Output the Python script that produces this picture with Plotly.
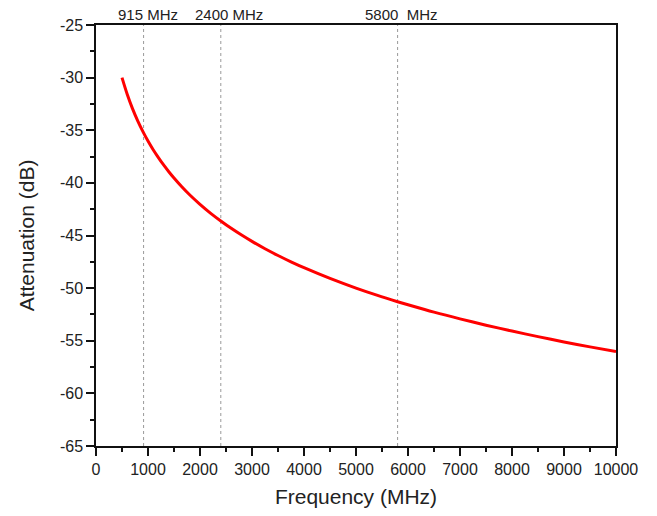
import plotly.graph_objects as go

freq_mhz = [500, 600, 700, 800, 915, 1000, 1100, 1200, 1300, 1400, 1500, 1650, 1800, 2000,
            2200, 2400, 2600, 2800, 3000, 3250, 3500, 3750, 4000, 4500, 5000, 5400, 5800,
            6000, 6500, 7000, 7500, 8000, 8500, 9000, 9500, 10000]
atten_db = [-30.00, -31.58, -32.92, -34.08, -35.25, -36.02, -36.85, -37.60, -38.30, -38.94,
            -39.54, -40.37, -41.13, -42.04, -42.87, -43.62, -44.32, -44.96, -45.56, -46.26,
            -46.90, -47.50, -48.06, -49.08, -50.00, -50.67, -51.29, -51.58, -52.28, -52.92,
            -53.52, -54.08, -54.61, -55.11, -55.58, -56.02]
band_freqs = [915, 2400, 5800]
band_labels = ["915 MHz", "2400 MHz", "5800\u00a0 MHz"]
band_label_shift = [4, 8, 4]

x_tick_vals = [0, 1000, 2000, 3000, 4000, 5000, 6000, 7000, 8000, 9000, 10000]
x_tick_text = ["0", "1000", "2000", "3000", "4000", "5000", "6000", "7000", "8000", "9000", "10000"]
y_tick_vals = [-65, -60, -55, -50, -45, -40, -35, -30, -25]
y_tick_text = ["-65", "-60", "-55", "-50", "-45", "-40", "-35", "-30", "-25"]

fig = go.Figure()
fig.add_trace(go.Scatter(x=freq_mhz, y=atten_db, mode="lines",
                         line=dict(color="#ff0000", width=3, shape="spline", smoothing=0.8),
                         showlegend=False, hoverinfo="skip"))

for f, lab, sh in zip(band_freqs, band_labels, band_label_shift):
    fig.add_shape(type="line", x0=f, x1=f, xref="x", y0=0, y1=1, yref="paper",
                  line=dict(color="#999999", width=1, dash="dot"), layer="below")
    fig.add_annotation(x=f, y=1, xref="x", yref="paper", text=lab, showarrow=False,
                       xanchor="center", yanchor="bottom", xshift=sh, yshift=0,
                       font=dict(size=15, color="#222222"))

axis_common = dict(showline=True, linecolor="#111111", linewidth=1.5, mirror=True,
                   ticks="outside", ticklen=8, tickwidth=1.5, tickcolor="#111111",
                   showgrid=False, zeroline=False, automargin=False,
                   tickfont=dict(size=16, color="#222222"))

fig.update_xaxes(range=[0, 10000], tickvals=x_tick_vals, ticktext=x_tick_text,
                 title=dict(text="Frequency (MHz)", font=dict(size=21, color="#222222"), standoff=12),
                 minor=dict(ticks="outside", ticklen=4, tickwidth=1.5, tickcolor="#111111", dtick=500, tick0=0),
                 **axis_common)
fig.update_yaxes(range=[-65, -25], tickvals=y_tick_vals, ticktext=y_tick_text,
                 title=dict(text="Attenuation (dB)", font=dict(size=21, color="#222222"), standoff=20),
                 minor=dict(ticks="outside", ticklen=4, tickwidth=1.5, tickcolor="#111111", dtick=2.5, tick0=-65),
                 **axis_common)

fig.update_layout(width=657, height=516, paper_bgcolor="white", plot_bgcolor="white",
                  margin=dict(l=96, r=41, t=25, b=70),
                  font=dict(family="Liberation Sans, Arial, sans-serif"))

fig.write_html("out.html", config={"displayModeBar": False},
               post_script="document.body.style.margin='0';document.body.style.padding='0';")
